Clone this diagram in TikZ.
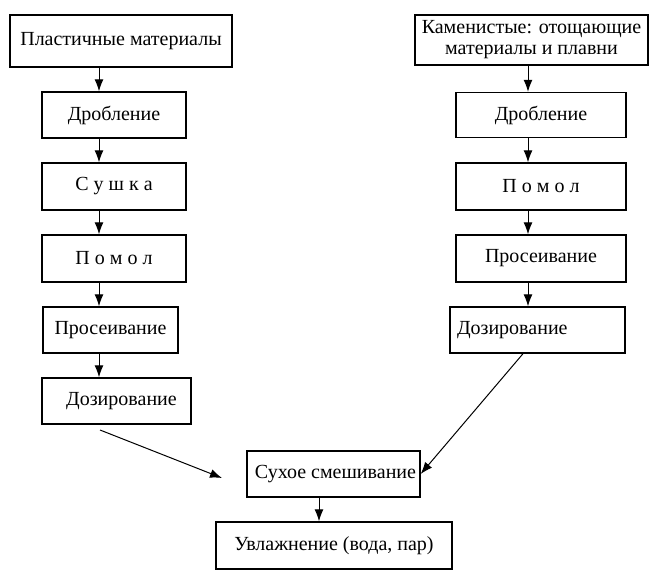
\documentclass[tikz,border=0pt]{standalone}
\usepackage{fontspec}
\setmainfont{Liberation Serif}
\usetikzlibrary{arrows.meta}
\begin{document}
\begin{tikzpicture}[x=1pt,y=-1pt,
  box/.style={draw, line width=1.4pt, inner sep=3pt, align=center,
    font=\fontsize{20}{22}\selectfont},
  arr/.style={-{Latex[length=12pt,width=9pt]}, line width=1pt}]
\useasboundingbox[fill=white] (0,0) rectangle (664,578);
% left column
\node[box, minimum width=222, minimum height=52] (l1) at (121,41) {Пластичные материалы};
\node[box, minimum width=144, minimum height=46] (l2) at (114,115) {Дробление};
\node[box, minimum width=144, minimum height=47] (l3) at (114,186.5) {С у ш к а};
\node[box, minimum width=144, minimum height=47] (l4) at (114,258.5) {П о м о л};
\node[box, minimum width=135, minimum height=46] (l5) at (110.5,330) {Просеивание};
\node[box, minimum width=149, minimum height=46] (l6) at (116.5,401) {\hspace*{10pt}Дозирование};
% right column
\node[box, minimum width=233, minimum height=50, inner ysep=1pt, font=\fontsize{20}{21}\selectfont] (r1) at (531.5,40) {Каменистые: отощающие\\материалы и плавни};
\node[box, minimum width=170, minimum height=45] (r2) at (541,115) {Дробление};
\node[box, minimum width=170, minimum height=47] (r3) at (541,186.5) {П о м о л};
\node[box, minimum width=170, minimum height=47] (r4) at (541,258.5) {Просеивание};
\node[box, minimum width=175, minimum height=46, text width=161pt, align=left] (r5) at (537.5,330) {Дозирование};
% bottom
\node[box, minimum width=173, minimum height=46, inner xsep=1pt] (m1) at (333.5,474) {\hspace*{4pt}Сухое смешивание};
\node[box, minimum width=236, minimum height=47] (m2) at (334,545.5) {Увлажнение (вода, пар)};
% guide coordinates
\coordinate (lx) at (99,0);
\coordinate (rx) at (528,0);
\coordinate (mx) at (319,0);
\coordinate (dx) at (523,0);
\coordinate (lend) at (222,478);
\coordinate (lstart) at (100,430);
% arrows
\draw[arr] (l1.south -| lx) -- (l2.north -| lx);
\draw[arr] (l2.south -| lx) -- (l3.north -| lx);
\draw[arr] (l3.south -| lx) -- (l4.north -| lx);
\draw[arr] (l4.south -| lx) -- (l5.north -| lx);
\draw[arr] (l5.south -| lx) -- (l6.north -| lx);
\draw[arr] (r1.south -| rx) -- (r2.north -| rx);
\draw[arr] (r2.south -| rx) -- (r3.north -| rx);
\draw[arr] (r3.south -| rx) -- (r4.north -| rx);
\draw[arr] (r4.south -| rx) -- (r5.north -| rx);
\draw[arr] (m1.south -| mx) -- (m2.north -| mx);
\draw[arr] (lstart) -- (lend);
\draw[arr] (r5.south -| dx) -- (m1.east);
\end{tikzpicture}
\end{document}
